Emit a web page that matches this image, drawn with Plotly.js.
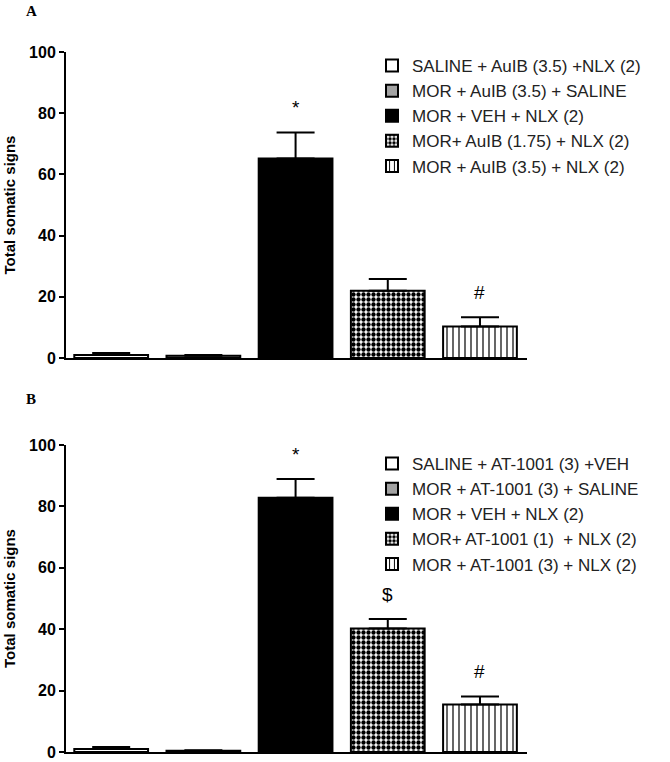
<!DOCTYPE html>
<html>
<head>
<meta charset="utf-8">
<script src="https://cdn.plot.ly/plotly-3.0.1.min.js"></script>
<style>
  body { margin: 0; background: #fff; }
  #chart { width: 670px; height: 762px; }
</style>
</head>
<body>
<div id="chart"></div>
<script>
// Panel A: AuIB groups
const groupsA = [
    'SALINE + AuIB (3.5) +NLX (2)',
    'MOR + AuIB (3.5) + SALINE',
    'MOR + VEH + NLX (2)',
    'MOR+ AuIB (1.75) + NLX (2)',
    'MOR + AuIB (3.5) + NLX (2)'
];
const meansA = [1.0, 0.7, 65.2, 22.0, 10.3];
const semA = [0.6, 0.3, 8.5, 3.8, 3.0];
const marksA = ['', '', '*', '', '#'];

// Panel B: AT-1001 groups
const groupsB = [
    'SALINE + AT-1001 (3) +VEH',
    'MOR + AT-1001 (3) + SALINE',
    'MOR + VEH + NLX (2)',
    'MOR+ AT-1001 (1)  + NLX (2)',
    'MOR + AT-1001 (3) + NLX (2)'
];
const meansB = [1.0, 0.4, 82.8, 40.2, 15.5];
const semB = [0.6, 0.2, 6.1, 3.1, 2.6];
const marksB = ['', '', '*', '$', '#'];

const yTicks = [0, 20, 40, 60, 80, 100];

// fill style of each group, same order in both panels
const fills = [
    {color: 'white'},
    {color: '#a3a3a3'},
    {color: 'black'},
    {color: 'white', pattern: {shape: '.', bgcolor: 'white', fgcolor: 'black', size: 5, solidity: 0.6, fillmode: 'replace'}},
    {color: 'white', pattern: {shape: '|', bgcolor: 'white', fgcolor: 'black', size: 6, solidity: 0.2, fillmode: 'replace'}}
];

// One trace per group so each gets its own legend entry.
function makeTraces(names, means, sems, xa, ya, legendId) {
    return names.map((name, i) => ({
        type: 'bar',
        name: name,
        x: [i],
        y: [means[i]],
        width: 0.8,
        xaxis: xa,
        yaxis: ya,
        legend: legendId,
        marker: Object.assign({line: {color: 'black', width: 2}}, fills[i]),
        error_y: {
            type: 'data',
            symmetric: false,
            array: [sems[i]],
            arrayminus: [0],
            color: 'black',
            thickness: 2,
            width: 19
        },
        hoverinfo: 'name+y'
    }));
}

function makeMarks(marks, means, sems, xref, yref) {
    const out = [];
    marks.forEach((m, i) => {
        if (!m) return;
        out.push({
            x: i, y: means[i] + sems[i], xref: xref, yref: yref,
            text: m, showarrow: false, yanchor: 'bottom', yshift: 12,
            font: {family: 'Liberation Sans, Arial, sans-serif', size: 19, color: 'black'}
        });
    });
    return out;
}

const traces = makeTraces(groupsA, meansA, semA, 'x', 'y', 'legend')
    .concat(makeTraces(groupsB, meansB, semB, 'x2', 'y2', 'legend2'));

const W = 670, H = 762;
const xDomain = [66 / W, 527 / W];
const xRange = [-0.49, 4.51];

const yAxisBase = {
    range: [0, 100],
    tickvals: yTicks,
    ticks: 'outside',
    ticklen: 5,
    tickwidth: 2,
    tickcolor: 'black',
    showline: true,
    linecolor: 'black',
    linewidth: 2,
    showgrid: false,
    zeroline: false,
    tickfont: {family: 'Liberation Sans, Arial, sans-serif', size: 16, color: 'black', weight: 'bold'},
    title: {
        text: 'Total somatic signs',
        standoff: 10,
        font: {family: 'Liberation Sans, Arial, sans-serif', size: 15, color: 'black', weight: 'bold'}
    }
};

const xAxisBase = {
    domain: xDomain,
    range: xRange,
    showline: true,
    linecolor: 'black',
    linewidth: 2,
    showgrid: false,
    zeroline: false,
    showticklabels: false,
    ticks: ''
};

const legendBase = {
    xanchor: 'left',
    yanchor: 'top',
    x: 372 / W,
    font: {family: 'Liberation Sans, Arial, sans-serif', size: 17, color: '#222'},
    bgcolor: 'rgba(0,0,0,0)',
    tracegroupgap: 0,
    itemwidth: 30
};

const panelFont = {family: 'Liberation Serif, Times New Roman, serif', size: 15, color: 'black', weight: 'bold'};

const layout = {
    width: W,
    height: H,
    margin: {l: 0, r: 0, t: 0, b: 0},
    paper_bgcolor: 'white',
    plot_bgcolor: 'white',
    barmode: 'overlay',
    showlegend: true,
    xaxis: Object.assign({anchor: 'y'}, xAxisBase),
    xaxis2: Object.assign({anchor: 'y2'}, xAxisBase),
    yaxis: Object.assign({anchor: 'x', domain: [1 - 358 / H, 1 - 52 / H]}, yAxisBase),
    yaxis2: Object.assign({anchor: 'x2', domain: [1 - 752 / H, 1 - 445 / H]}, yAxisBase),
    legend: Object.assign({y: 1 - 48 / H}, legendBase),
    legend2: Object.assign({y: 1 - 446 / H}, legendBase),
    annotations: makeMarks(marksA, meansA, semA, 'x', 'y')
        .concat(makeMarks(marksB, meansB, semB, 'x2', 'y2'))
        .concat([
            {x: 24 / W, y: 1 - 11 / H, xref: 'paper', yref: 'paper', text: 'A', showarrow: false,
             xanchor: 'left', yanchor: 'middle', font: panelFont},
            {x: 24 / W, y: 1 - 399 / H, xref: 'paper', yref: 'paper', text: 'B', showarrow: false,
             xanchor: 'left', yanchor: 'middle', font: panelFont}
        ])
};

Plotly.newPlot('chart', traces, layout, {displayModeBar: false, staticPlot: true});
</script>
</body>
</html>
